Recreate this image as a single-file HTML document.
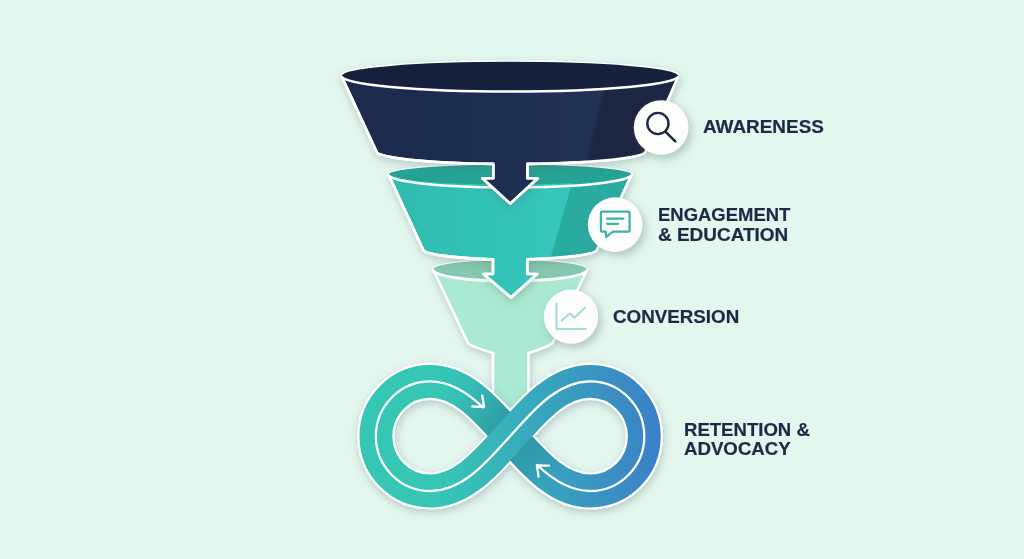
<!DOCTYPE html>
<html><head><meta charset="utf-8">
<style>
html,body{margin:0;padding:0;width:1024px;height:559px;overflow:hidden;background:#e3f7ef;}
svg{position:absolute;left:0;top:0;display:block}
.t{position:absolute;font-family:"Liberation Sans",sans-serif;font-weight:bold;color:#1e2946;font-size:17.6px;line-height:20px;white-space:nowrap;transform-origin:0 0;-webkit-text-stroke:0.2px #1e2946;}
</style></head>
<body>
<svg width="1024" height="559" viewBox="0 0 1024 559">
<defs>
  <filter id="sh" x="-30%" y="-30%" width="160%" height="160%">
    <feGaussianBlur in="SourceAlpha" stdDeviation="4"/>
    <feOffset dx="0.5" dy="3" result="b"/>
    <feFlood flood-color="#55706a" flood-opacity="0.34"/>
    <feComposite in2="b" operator="in"/>
    <feMerge><feMergeNode/><feMergeNode in="SourceGraphic"/></feMerge>
  </filter>
  <filter id="shc" x="-50%" y="-50%" width="200%" height="200%">
    <feGaussianBlur in="SourceAlpha" stdDeviation="4"/>
    <feOffset dx="2.5" dy="3.5" result="b"/>
    <feFlood flood-color="#4d6a60" flood-opacity="0.35"/>
    <feComposite in2="b" operator="in"/>
    <feMerge><feMergeNode/><feMergeNode in="SourceGraphic"/></feMerge>
  </filter>
  <filter id="bl1" x="-20%" y="-20%" width="140%" height="140%"><feGaussianBlur stdDeviation="1"/></filter>
  <linearGradient id="inf" gradientUnits="userSpaceOnUse" x1="440" y1="0" x2="660" y2="0">
    <stop offset="0" stop-color="#36c6b4"/>
    <stop offset="1" stop-color="#3a80c8"/>
  </linearGradient>
  <linearGradient id="ushade" gradientUnits="userSpaceOnUse" x1="466" y1="388" x2="556" y2="482">
    <stop offset="0" stop-color="#0e4a5a" stop-opacity="0"/>
    <stop offset="0.33" stop-color="#0e4a5a" stop-opacity="0.18"/>
    <stop offset="0.5" stop-color="#0e4a5a" stop-opacity="0.21"/>
    <stop offset="0.67" stop-color="#0e4a5a" stop-opacity="0.18"/>
    <stop offset="1" stop-color="#0e4a5a" stop-opacity="0"/>
  </linearGradient>
  <linearGradient id="gNavy" gradientUnits="userSpaceOnUse" x1="360" y1="0" x2="600" y2="0">
    <stop offset="0" stop-color="#1e2b4d"/>
    <stop offset="0.6" stop-color="#1f2e51"/>
    <stop offset="1" stop-color="#213155"/>
  </linearGradient>
  <linearGradient id="gTeal" gradientUnits="userSpaceOnUse" x1="400" y1="0" x2="570" y2="0">
    <stop offset="0" stop-color="#2fbcb1"/>
    <stop offset="0.5" stop-color="#33c2b8"/>
    <stop offset="1" stop-color="#35c6bb"/>
  </linearGradient>
  <clipPath id="cNavy"><path id="navyP" d="M341.5 76 L376.5 151.5 A134.5 12.5 0 0 0 493.3 163.9 L493.3 178.3 L482.4 178.3 L510.2 203.6 L537.8 178.3 L527.5 178.3 L527.5 163.9 A134.5 12.5 0 0 0 645.5 151.5 L678.3 76 A168.4 14.3 0 0 0 341.5 76 Z"/></clipPath>
  <clipPath id="cTeal"><path id="tealP" d="M388.5 174.5 L422.8 249 A87.5 10.5 0 0 0 493 259.3 L493 274 L483.4 274 L511 297.5 L537.2 274 L527.3 274 L527.3 259.3 A87.5 10.5 0 0 0 597.3 249 L631.5 174.5 A121.5 10 0 0 0 388.5 174.5 Z"/></clipPath>
  <clipPath id="cLight"><path id="lightP" d="M433.2 269.5 L467.9 343 Q471 346.5 493 353 L493 425 L528.4 425 L528.4 353 Q549 346.5 552.6 343 L587 269.5 A76.9 9.5 0 0 0 433.2 269.5 Z"/></clipPath>
</defs>

<!-- light funnel (3) -->
<g filter="url(#sh)"><path d="M433.2 269.5 L467.9 343 Q471 346.5 493 353 L493 425 L528.4 425 L528.4 353 Q549 346.5 552.6 343 L587 269.5 A76.9 9.5 0 0 0 433.2 269.5 Z" fill="#aaead2" stroke="#fff" stroke-width="2.6" stroke-linejoin="round"/></g>
<ellipse cx="510.1" cy="269.5" rx="76.9" ry="9.5" fill="#85c9af"/>
<path d="M433.2 269.5 A76.9 11.8 0 0 0 587 269.5" fill="none" stroke="#fff" stroke-width="2.6"/>

<!-- infinity -->
<g filter="url(#sh)"><path d="M510.1 436.2 C529.22 415.76 555 381.4 590 381.4 C619.99 381.4 644.3 405.93 644.3 436.2 C644.3 466.47 619.99 491 590 491 C555 491 529.22 456.64 510.1 436.2 C490.98 415.76 465.2 381.4 430.2 381.4 C400.21 381.4 375.9 405.93 375.9 436.2 C375.9 466.47 400.21 491 430.2 491 C465.2 491 490.98 456.64 510.1 436.2 Z" fill="none" stroke="#fff" stroke-width="37.2"/></g>
<path d="M510.1 436.2 C529.22 415.76 555 381.4 590 381.4 C619.99 381.4 644.3 405.93 644.3 436.2 C644.3 466.47 619.99 491 590 491 C555 491 529.22 456.64 510.1 436.2 C490.98 415.76 465.2 381.4 430.2 381.4 C400.21 381.4 375.9 405.93 375.9 436.2 C375.9 466.47 400.21 491 430.2 491 C465.2 491 490.98 456.64 510.1 436.2 Z" fill="none" stroke="url(#inf)" stroke-width="32.8"/>
<path d="M556.53 480.44 C537.77 468.65 522.53 449.49 510.1 436.2 C497.67 422.91 482.43 403.75 463.67 391.96" fill="none" stroke="url(#ushade)" stroke-width="32.8"/>
<path d="M472.08 474.53 C487.05 462.89 499.58 447.44 510.1 436.2 C520.62 424.96 533.15 409.51 548.12 397.87" fill="none" stroke="url(#inf)" stroke-width="32.8"/>
<path d="M483.23 407.54 C468.44 393.46 450.94 381.4 430.2 381.4 C400.21 381.4 375.9 405.93 375.9 436.2 C375.9 466.47 400.21 491 430.2 491 C465.2 491 490.98 456.64 510.1 436.2 C529.22 415.76 555 381.4 590 381.4 C619.99 381.4 644.3 405.93 644.3 436.2 C644.3 466.47 619.99 491 590 491 C569.35 491 551.91 479.04 537.15 465.03" fill="none" stroke="#fff" stroke-width="2.3" stroke-linecap="round"/>
<path d="M482.2 395.4 L484 406.8 L472.2 406.5" fill="none" stroke="#fff" stroke-width="2.3" stroke-linecap="round" stroke-linejoin="round"/>
<path d="M549 465.7 L536.8 465.4 L538.6 476.5" fill="none" stroke="#fff" stroke-width="2.3" stroke-linecap="round" stroke-linejoin="round"/>

<!-- teal funnel (2) -->
<g filter="url(#sh)"><path d="M388.5 174.5 L422.8 249 A87.5 10.5 0 0 0 493 259.3 L493 274 L483.4 274 L511 297.5 L537.2 274 L527.3 274 L527.3 259.3 A87.5 10.5 0 0 0 597.3 249 L631.5 174.5 A121.5 10 0 0 0 388.5 174.5 Z" fill="url(#gTeal)" stroke="#fff" stroke-width="2.6" stroke-linejoin="round"/></g>
<g clip-path="url(#cTeal)"><path d="M573 180 L660 170 L660 270 L547 270 Z" fill="#2aab9f"/></g>
<path d="M388.5 174.5 L422.8 249 A87.5 10.5 0 0 0 493 259.3 L493 274 L483.4 274 L511 297.5 L537.2 274 L527.3 274 L527.3 259.3 A87.5 10.5 0 0 0 597.3 249 L631.5 174.5 A121.5 10 0 0 0 388.5 174.5 Z" fill="none" stroke="#fff" stroke-width="2.6" stroke-linejoin="round"/>
<ellipse cx="510" cy="174.5" rx="121.5" ry="10" fill="#24a394"/>
<path d="M388.5 174.5 A121.5 13 0 0 0 631.5 174.5" fill="none" stroke="#fff" stroke-width="2.6"/>

<!-- navy funnel (1) -->
<g filter="url(#sh)"><path d="M341.5 76 L376.5 151.5 A134.5 12.5 0 0 0 493.3 163.9 L493.3 178.3 L482.4 178.3 L510.2 203.6 L537.8 178.3 L527.5 178.3 L527.5 163.9 A134.5 12.5 0 0 0 645.5 151.5 L678.3 76 A168.4 14.3 0 0 0 341.5 76 Z" fill="url(#gNavy)" stroke="#fff" stroke-width="2.6" stroke-linejoin="round"/></g>
<g clip-path="url(#cNavy)"><path d="M605 85 L700 80 L700 180 L585 168 Z" fill="#1a2642" filter="url(#bl1)"/></g>
<path d="M341.5 76 L376.5 151.5 A134.5 12.5 0 0 0 493.3 163.9 L493.3 178.3 L482.4 178.3 L510.2 203.6 L537.8 178.3 L527.5 178.3 L527.5 163.9 A134.5 12.5 0 0 0 645.5 151.5 L678.3 76 A168.4 14.3 0 0 0 341.5 76 Z" fill="none" stroke="#fff" stroke-width="2.6" stroke-linejoin="round"/>
<ellipse cx="509.9" cy="76" rx="168.4" ry="14.3" fill="#17213d"/>
<path d="M341.5 76 A168.4 15.5 0 0 0 678.3 76" fill="none" stroke="#fff" stroke-width="2.6"/>

<!-- icon circles -->
<g filter="url(#shc)">
  <circle cx="661.1" cy="127.5" r="27.3" fill="#fdfdfc"/>
  <circle cx="615.1" cy="224.6" r="27.3" fill="#fdfdfc"/>
  <circle cx="571" cy="316.7" r="27.1" fill="#fdfdfc"/>
</g>
<!-- magnifier -->
<circle cx="657.9" cy="123.5" r="10.6" fill="none" stroke="#1d2743" stroke-width="2.4"/>
<path d="M665.6 131.8 L675.3 141.4" stroke="#1d2743" stroke-width="2.5" stroke-linecap="round"/>
<!-- chat -->
<path d="M602.3 211.6 L628.2 211.6 Q629.6 211.6 629.6 213 L629.6 230.2 Q629.6 231.6 628.2 231.6 L612.9 231.6 L606.2 237 L605.8 231.6 L602.3 231.6 Q600.9 231.6 600.9 230.2 L600.9 213 Q600.9 211.6 602.3 211.6 Z" fill="none" stroke="#3ab4a7" stroke-width="2.2" stroke-linejoin="round"/>
<path d="M607 218.6 L623.5 218.6 M607 223.8 L618.2 223.8" stroke="#3ab4a7" stroke-width="2.2" stroke-linecap="round"/>
<!-- chart -->
<path d="M556.5 303.5 L556.5 329 L585.7 329" fill="none" stroke="#a3dfcb" stroke-width="2.1" stroke-linecap="round" stroke-linejoin="round"/>
<path d="M561.8 320.6 L569.6 313.5 L574.6 317.6 L585.3 307.5" fill="none" stroke="#a3dfcb" stroke-width="2.1" stroke-linecap="round" stroke-linejoin="round"/>
</svg>

<div class="t" style="left:703px;top:116.7px;transform:scaleX(1.075)">AWARENESS</div>
<div class="t" style="left:657.7px;top:204.5px;transform:scaleX(1.05)">ENGAGEMENT</div>
<div class="t" style="left:657.7px;top:224.5px;transform:scaleX(1.078)">&amp; EDUCATION</div>
<div class="t" style="left:613px;top:306.8px;transform:scaleX(1.067)">CONVERSION</div>
<div class="t" style="left:683.5px;top:419.8px;transform:scaleX(1.055)">RETENTION &amp;</div>
<div class="t" style="left:683.5px;top:439.3px;transform:scaleX(1.06)">ADVOCACY</div>
</body></html>
